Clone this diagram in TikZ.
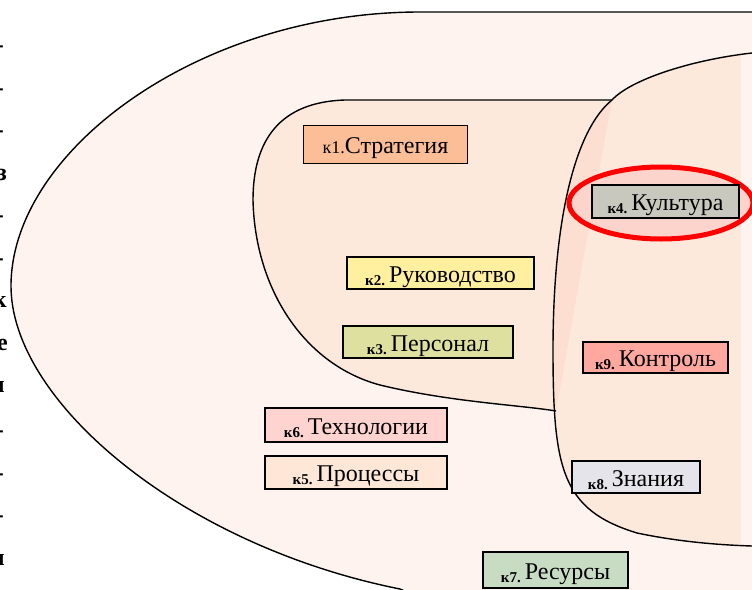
\documentclass[tikz,border=0pt]{standalone}
\usepackage{fontspec}
\setmainfont{Liberation Serif}
\definecolor{outerfill}{RGB}{254,243,238}
\definecolor{innerfill}{RGB}{253,233,220}
\definecolor{overlapfill}{RGB}{252,223,208}
\definecolor{ringfill}{RGB}{253,212,204}
\definecolor{cStrat}{RGB}{252,190,150}
\definecolor{cKult}{RGB}{200,200,190}
\definecolor{cRuk}{RGB}{255,240,160}
\definecolor{cPers}{RGB}{222,224,160}
\definecolor{cKontr}{RGB}{255,168,160}
\definecolor{cTech}{RGB}{255,211,208}
\definecolor{cProc}{RGB}{254,231,215}
\definecolor{cZnan}{RGB}{228,228,234}
\definecolor{cRes}{RGB}{200,220,196}
\newcommand{\kmark}[1]{\raisebox{-3pt}{\fontsize{15}{15}\selectfont\bfseries #1}\,}
\tikzset{
  kbox/.style={draw=black, line width=1.8pt, inner sep=0pt, anchor=center,
    text height=20pt, text depth=2pt, font=\fontsize{24}{24}\selectfont},
  zone/.style={draw=black, line width=1.4pt},
  margintext/.style={anchor=base east, inner sep=0pt, font=\fontsize{24}{24}\selectfont\bfseries}
}
\begin{document}
\begin{tikzpicture}[x=1pt,y=-1pt]
\useasboundingbox (0,0) rectangle (752,589);
\clip (0,0) rectangle (752,589);
\fill[white] (0,0) rectangle (752,589);

% edge of the neighbouring text column
\foreach \yy/\ch/\xx in {52/-/4, 95/-/4, 137/-/4, 180/з/7, 222/-/4, 265/-/4,
  307/к/7, 350/е/8, 392/и/5, 437/-/4, 480/-/4, 522/-/4, 565/и/5}
  \node[margintext] at (\xx,\yy) {\ch};

% outer zone
\path[zone, fill=outerfill] (760,12) -- (420,12) .. controls (200,12) and (12,150) .. (11,285)
  .. controls (10,400) and (180,545) .. (400,589) -- (470,620) -- (760,620) -- cycle;

% right zone and middle zone
\def\rightpath{(752,53) .. controls (690,60) and (630,80) .. (612,100)
  .. controls (575,130) and (553,220) .. (553,350)
  .. controls (553,470) and (562,510) .. (637,533)
  .. controls (680,542) and (720,545) .. (752,546)}
\def\midpath{(612,100) -- (345,100) .. controls (280,102) and (253,140) .. (253,200)
  .. controls (255,290) and (305,365) .. (380,385)
  .. controls (450,402) and (520,405) .. (556,411)}
\fill[innerfill] \rightpath -- (760,546) -- (760,53) -- cycle;
\fill[innerfill] \midpath -- cycle;
\begin{scope}
  \clip \rightpath -- (760,546) -- (760,53) -- cycle;
  \fill[overlapfill] \midpath -- cycle;
\end{scope}
\fill[outerfill] (741,40) rectangle (760,560);
\draw[zone] \midpath;
\draw[zone] \rightpath;

% highlight ring
\draw[red, line width=5pt, fill=ringfill] (661,203) ellipse [x radius=92, y radius=36];

% factor boxes
\node[kbox, fill=cStrat, minimum width=164pt, minimum height=38pt] (k1) at (385.5,144.5)
  {{\fontsize{18}{18}\selectfont к1.}Стратегия};
\node[kbox, fill=cKult, minimum width=147pt, minimum height=33pt] (k4) at (665.5,201.5)
  {\kmark{к4.}Культура};
\node[kbox, fill=cRuk, minimum width=187pt, minimum height=32pt] (k2) at (440.5,273)
  {\kmark{к2.}Руководство};
\node[kbox, fill=cPers, minimum width=170pt, minimum height=32pt] (k3) at (428,342)
  {\kmark{к3.}Персонал};
\node[kbox, fill=cKontr, minimum width=145pt, minimum height=31pt] (k9) at (655.5,357.5)
  {\kmark{к9.}Контроль};
\node[kbox, fill=cTech, minimum width=182pt, minimum height=34pt] (k6) at (356,425)
  {\kmark{к6.}Технологии};
\node[kbox, fill=cProc, minimum width=182pt, minimum height=33pt] (k5) at (356,472.5)
  {\kmark{к5.}Процессы};
\node[kbox, fill=cZnan, minimum width=128pt, minimum height=32pt] (k8) at (636,477)
  {\kmark{к8.}Знания};
\node[kbox, fill=cRes, minimum width=145pt, minimum height=36pt] (k7) at (555.5,570)
  {\kmark{к7.}Ресурсы};
\end{tikzpicture}
\end{document}
